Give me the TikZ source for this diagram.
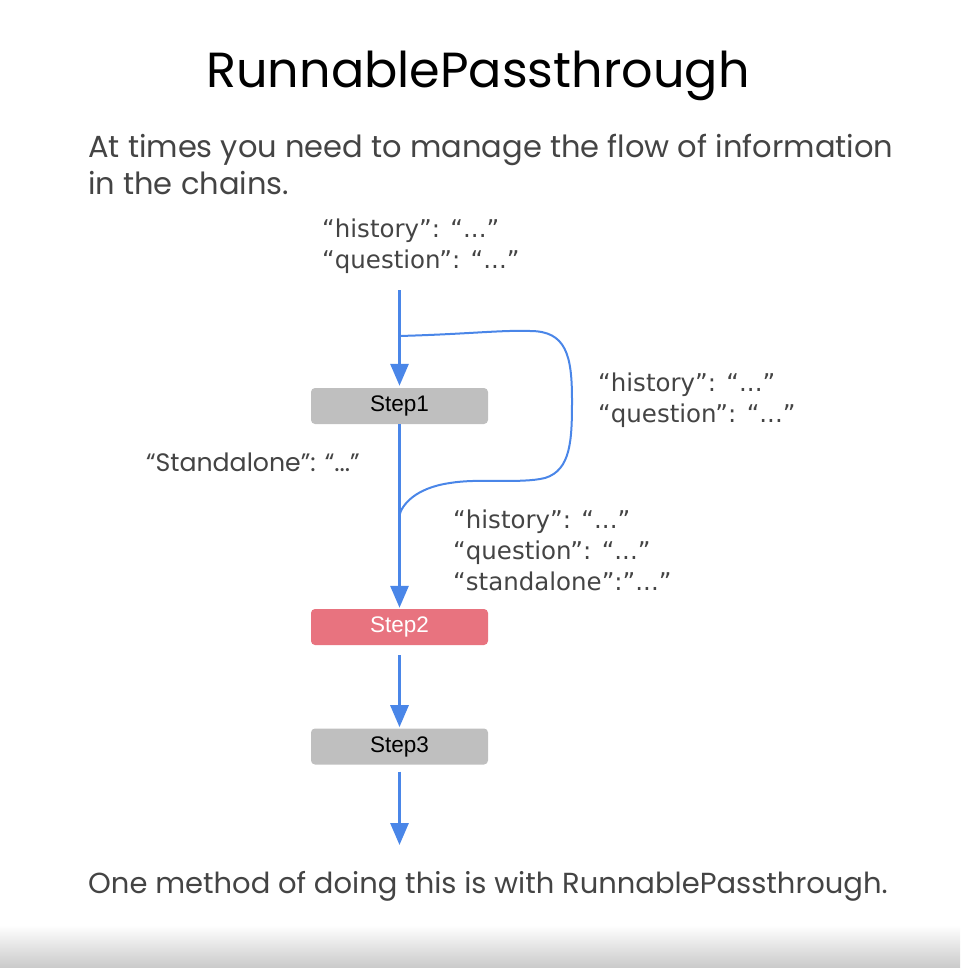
\documentclass[tikz,border=0pt]{standalone}
\usepackage{fontspec}
\setmainfont{Poppins}
\newfontfamily\dejavu{DejaVu Sans}
\newfontfamily\arial{Liberation Sans}
\usetikzlibrary{arrows.meta}
\definecolor{flowblue}{HTML}{4A86E8}
\definecolor{txtgray}{HTML}{444444}
\definecolor{boxgray}{HTML}{BFBFBF}
\definecolor{boxred}{HTML}{E8737F}
\tikzset{
  stepbox/.style={draw=none, rounded corners=4pt, minimum width=177pt, minimum height=36pt, inner sep=0pt, font=\arial\fontsize{22.5}{26}\selectfont},
  flow/.style={draw=flowblue, line width=3pt, -{Triangle[width=18pt,length=22pt]}},
  bypass/.style={draw=flowblue, line width=2pt},
  json/.style={align=left, anchor=north west, inner sep=0pt, text=txtgray, font=\dejavu\fontsize{24.5}{31}\selectfont},
}
\begin{document}
\begin{tikzpicture}[x=1pt,y=-1pt]
\useasboundingbox (0,0) rectangle (960,968);
\shade[top color=white, bottom color=black!21] (0,925) rectangle (960,968);
\node[anchor=base, text=black, font=\fontsize{49.3}{54}\selectfont] (title) at (478,88) {RunnablePassthrough};
\node[anchor=base west, align=left, inner sep=0pt, text=txtgray, font=\fontsize{30.5}{37}\selectfont] (intro) at (88,195) {At times you need to manage the flow of information\\in the chains.};
\node[json] (injson) at (322,219) {“history”: “...”\\“question”: “...”};
\node[stepbox, fill=boxgray, text=black] (step1) at (399.5,406) {Step1};
\node[stepbox, fill=boxred, text=white] (step2) at (399.5,627) {Step2};
\node[stepbox, fill=boxgray, text=black] (step3) at (399.5,746.5) {Step3};
\coordinate (start) at (399.5,290);
\coordinate (split) at (399.5,336);
\coordinate (merge) at (399.5,515);
\coordinate (finish) at (399.5,845);
\draw[flow, shorten >=2pt] (start) -- (step1.north);
\draw[flow, shorten >=1pt] (step1.south) -- (step2.north);
\draw[flow, shorten <=10pt] (step2.south) -- ++(0,82);
\draw[flow, shorten <=7pt] (step3.south) -- (finish);
\draw[bypass] (split) .. controls (470,334) and (500,330) .. (530,331)
  .. controls (566,331) and (572,355) .. (572,400)
  .. controls (572,440) and (571,470) .. (545,478)
  .. controls (520,484) and (480,478) .. (450,483)
  .. controls (415,488) and (402,505) .. (merge);
\node[json] (loopjson) at (598,373) {“history”: “...”\\“question”: “...”};
\node[anchor=base east, inner sep=0pt, text=txtgray, font=\fontsize{25.2}{29}\selectfont] (standalone) at (360,471) {“Standalone”: “...”};
\node[json] (outjson) at (453,510) {“history”: “...”\\“question”: “...”\\“standalone”:”...”};
\node[anchor=base west, inner sep=0pt, text=txtgray, font=\fontsize{29}{34}\selectfont] (outro) at (88,893) {One method of doing this is with RunnablePassthrough.};
\end{tikzpicture}
\end{document}
